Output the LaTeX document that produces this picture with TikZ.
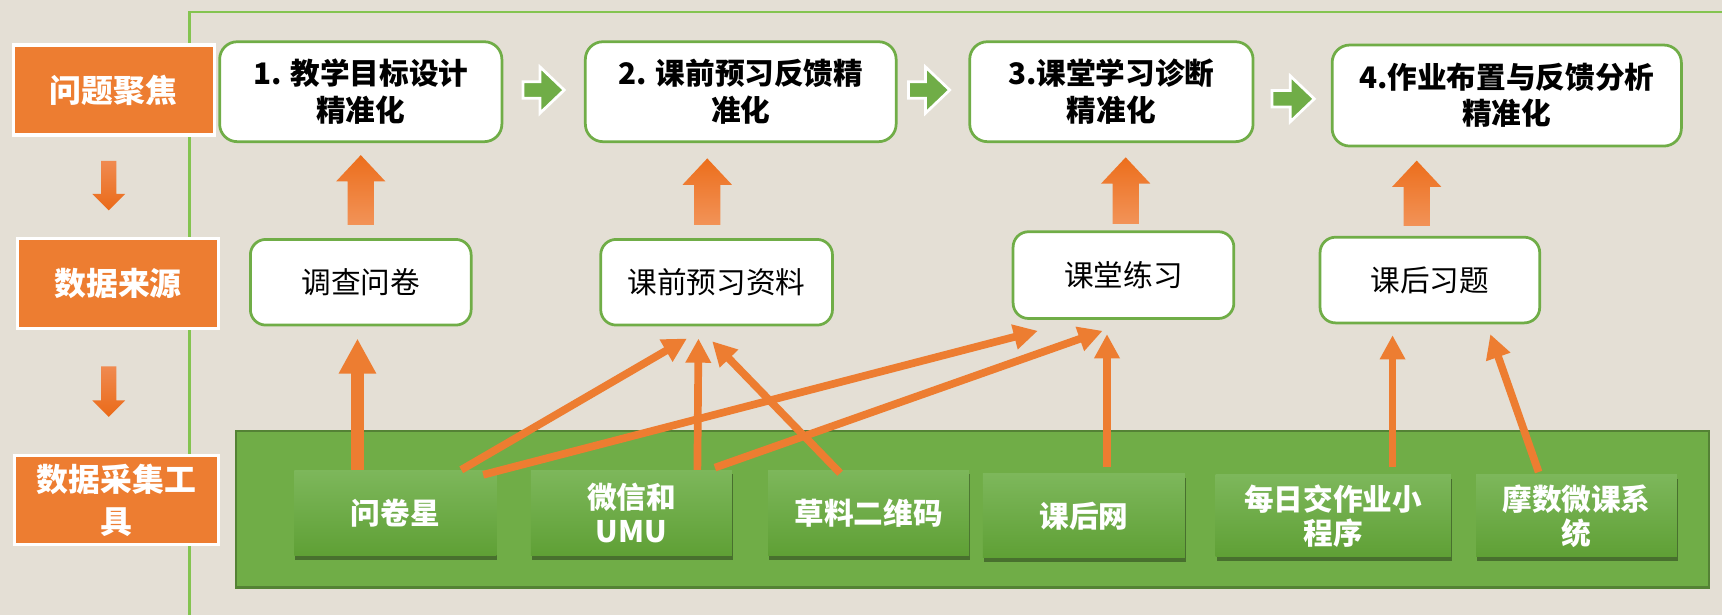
\documentclass[tikz,border=0pt]{standalone}
\usepackage{fontspec}
\setmainfont{Noto Sans CJK SC}
\usetikzlibrary{arrows.meta,calc,shadows}
\definecolor{bg}{HTML}{E4DFD5}
\definecolor{framec}{HTML}{84C450}
\definecolor{org}{HTML}{ED7D31}
\definecolor{grn}{HTML}{70AD47}
\definecolor{grnd}{HTML}{548235}
\definecolor{tooltop}{HTML}{7DB75B}
\definecolor{toolbot}{HTML}{5FA035}
\definecolor{arrtop}{HTML}{EC6E1C}
\definecolor{arrbot}{HTML}{F29358}
\definecolor{darrtop}{HTML}{F08A50}
\definecolor{darrbot}{HTML}{EA6A18}

\newcommand\fatup[2]{%
  \path[top color=arrtop,bottom color=arrbot] let \p1=#1, \p2=#2 in
   (\x2-12pt,\y1) -- (\x2+12pt,\y1) -- (\x2+12pt,\y2-24pt) -- (\x2+22.5pt,\y2-24pt)
   -- (\x2,\y2) -- (\x2-22.5pt,\y2-24pt) -- (\x2-12pt,\y2-24pt) -- cycle;}
\newcommand\fatdown[2]{%
  \path[top color=darrtop,bottom color=darrbot] let \p1=#1, \p2=#2 in
   (\x2-7pt,\y1) -- (\x2+7pt,\y1) -- (\x2+7pt,\y2+15pt) -- (\x2+15pt,\y2+15pt)
   -- (\x2,\y2) -- (\x2-15pt,\y2+15pt) -- (\x2-7pt,\y2+15pt) -- cycle;}
\newcommand\greenright[2]{%
  \path[fill=grn,draw=white,line width=2.5pt,line join=miter] let \p1=#1, \p2=#2 in
   (\x1,\y2+7.5pt) -- (\x2-22pt,\y2+7.5pt) -- (\x2-22pt,\y2+21pt) -- (\x2,\y2)
   -- (\x2-22pt,\y2-21pt) -- (\x2-22pt,\y2-7.5pt) -- (\x1,\y2-7.5pt) -- cycle;}

\begin{document}
\begin{tikzpicture}[x=1pt,y=-1pt,
  lbl/.style={fill=org,draw=white,line width=3pt,text=white,
    font=\bfseries\fontsize{29}{38}\selectfont,align=center,inner sep=0pt},
  goal/.style={fill=white,draw=grn,line width=2.5pt,rounded corners=16pt,
    font=\bfseries\fontsize{27}{33}\selectfont,align=center,inner sep=0pt},
  src/.style={fill=white,draw=grn,line width=2.5pt,rounded corners=14pt,
    font=\fontsize{27}{33}\selectfont,inner sep=0pt},
  panel/.style={fill=grn,draw=grnd,line width=2pt,inner sep=0pt},
  tool/.style={top color=tooltop,bottom color=toolbot,draw=none,text=white,
    font=\bfseries\fontsize{27}{31}\selectfont,align=center,inner sep=0pt,
    drop shadow={shadow xshift=1pt,shadow yshift=-4pt,fill=black,opacity=0.35}},
  link/.style={draw=org,line width=7pt,-{Triangle[width=22pt,length=22pt]}},
  linkthick/.style={draw=org,line width=11pt,-{Triangle[width=32pt,length=32pt]}}
]
\fill[bg] (0,0) rectangle (1568,560);
\useasboundingbox (0,0) rectangle (1568,560);
\draw[framec,line width=2.5pt] (172.5,560) -- (172.5,11) -- (1568,11);

% left labels
\node[lbl,minimum width=183pt,minimum height=82pt] (q1) at (103.5,82) {问题聚焦};
\node[lbl,minimum width=183pt,minimum height=82pt] (q2) at (107.5,258) {数据来源};
\node[lbl,minimum width=186pt,minimum height=81pt] (q3) at (106,455.5) {数据采集工\\具};
\fatdown{([xshift=-4.5pt,yshift=-22pt]q1.south)}{([xshift=-8.5pt,yshift=24pt]q2.north)}
\fatdown{([xshift=-8.5pt,yshift=-33pt]q2.south)}{([xshift=-7pt,yshift=34pt]q3.north)}

% goals
\node[goal,minimum width=257pt,minimum height=91pt] (b1) at (328.5,83.5) {1. 教学目标设计\\精准化};
\node[goal,minimum width=283pt,minimum height=91pt] (b2) at (674.5,83.5) {2. 课前预习反馈精\\准化};
\node[goal,minimum width=258pt,minimum height=91pt] (b3) at (1012,83.5) {3.课堂学习诊断\\精准化};
\node[goal,minimum width=318pt,minimum height=92pt] (b4) at (1372,87) {4.作业布置与反馈分析\\精准化};
\greenright{([xshift=18pt,yshift=1.5pt]b1.east)}{([xshift=-18pt,yshift=1.5pt]b2.west)}
\greenright{([xshift=10pt,yshift=1.5pt]b2.east)}{([xshift=-17pt,yshift=1.5pt]b3.west)}
\greenright{([xshift=16pt,yshift=-0.5pt]b3.east)}{([xshift=-15pt,yshift=-3pt]b4.west)}

% data sources
\node[src,minimum width=201pt,minimum height=78pt] (s1) at (328.5,257) {调查问卷};
\node[src,minimum width=211pt,minimum height=78pt] (s2) at (652.5,257) {课前预习资料};
\node[src,minimum width=201pt,minimum height=79pt] (s3) at (1023,250.5) {课堂练习};
\node[src,minimum width=200pt,minimum height=78pt] (s4) at (1302,255) {课后习题};
\fatup{([yshift=12pt]s1.north)}{([yshift=-11pt]b1.south)}
\fatup{([xshift=-8.5pt,yshift=12pt]s2.north)}{([xshift=-30.5pt,yshift=-14pt]b2.south)}
\fatup{([xshift=2pt,yshift=6pt]s3.north)}{([xshift=13pt,yshift=-13pt]b3.south)}
\fatup{([xshift=-12pt,yshift=9pt]s4.north)}{([xshift=-82pt,yshift=-12pt]b4.south)}

% tools panel
\node[panel,minimum width=1341pt,minimum height=142.5pt] (panel) at (885.5,463.75) {};
\node[tool,minimum width=184pt,minimum height=78pt] (t1) at (360,467) {问卷星};
\node[tool,minimum width=183pt,minimum height=78pt] (t2) at (575,467) {微信和\\UMU};
\node[tool,minimum width=183pt,minimum height=78pt] (t3) at (791,467) {草料二维码};
\node[tool,minimum width=184pt,minimum height=76.5pt] (t4) at (987,469.75) {课后网};
\node[tool,minimum width=214pt,minimum height=74.5pt] (t5) at (1214,469.75) {每日交作业小\\程序};
\node[tool,minimum width=183pt,minimum height=74.5pt] (t6) at (1435.5,469.75) {摩数微课系\\统};

% links
\draw[linkthick] ([xshift=-34.5pt]t1.north) -- ([xshift=-3pt,yshift=-11pt]s1.south);
\draw[link] ([xshift=60pt]t1.north) -- ([xshift=-27pt,yshift=-11pt]s2.south);
\draw[link] ([xshift=80pt,yshift=-4.5pt]t1.north) -- ([xshift=-78pt,yshift=-10pt]s3.south);
\draw[link] ([xshift=60pt]t2.north) -- ([xshift=-16.5pt,yshift=-11pt]s2.south);
\draw[link] ([xshift=76pt,yshift=2pt]t2.north) -- ([xshift=-19pt,yshift=-10pt]s3.south);
\draw[link] ([xshift=-26pt,yshift=-3pt]t3.north) -- ([xshift=-4pt,yshift=-13.5pt]s2.south);
\draw[link] ([xshift=21pt,yshift=6.5pt]t4.north) -- ([xshift=-15pt,yshift=-13pt]s3.south);
\draw[link] ([xshift=54pt,yshift=7.5pt]t5.north) -- ([xshift=-34pt,yshift=-10pt]s4.south);
\draw[link] ([xshift=-34.5pt,yshift=2.5pt]t6.north) -- ([xshift=55pt,yshift=-9pt]s4.south);
\end{tikzpicture}
\end{document}
